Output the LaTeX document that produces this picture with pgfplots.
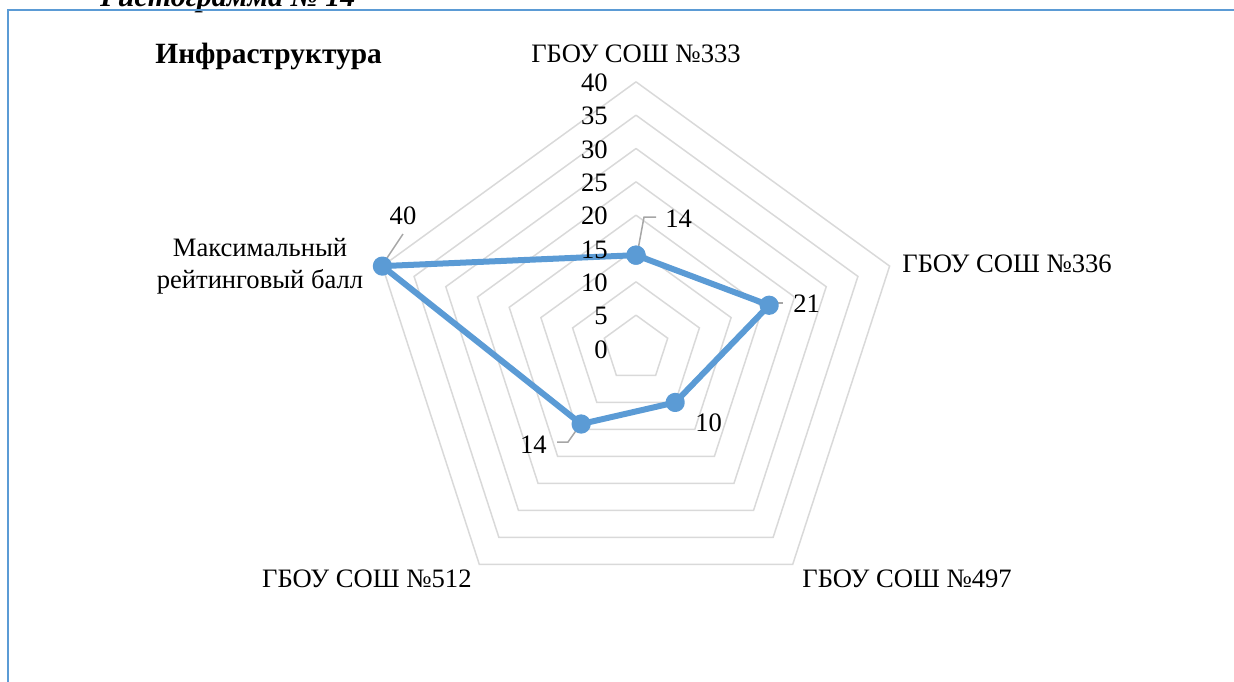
\documentclass[border=0pt]{standalone}
\usepackage{fontspec}
\setmainfont{Liberation Serif}
\usepackage{pgfplots}
\pgfplotsset{compat=1.18}
\definecolor{ser}{RGB}{91,155,213}
\definecolor{gridc}{RGB}{217,217,217}
\definecolor{lead}{RGB}{166,166,166}
\definecolor{framec}{RGB}{91,155,213}
\begin{document}
\begin{tikzpicture}[x=0.5pt,y=0.5pt]
\useasboundingbox (0,0) rectangle (1234,-681);
\coordinate (C) at (636,-348.5);
\begin{scope}
\clip (0,0) rectangle (1234,-681);
\node[anchor=base west, inner sep=0, font=\fontsize{15}{18}\selectfont\bfseries\itshape] at (100,-6.5) {Гистограмма № 14};
\draw[framec, line width=1pt] (8,-700) -- (8,-10) -- (1250,-10);
\end{scope}
\begin{axis}[at={(C)}, anchor=origin, x=3.3333pt, y=3.3333pt,
  xmin=-42, xmax=42, ymin=-42, ymax=42, hide axis, clip=false]
\addplot[gridc, line width=0.75pt, data cs=polar] coordinates {(90,5)(18,5)(-54,5)(-126,5)(162,5)(90,5)};
\addplot[gridc, line width=0.75pt, data cs=polar] coordinates {(90,10)(18,10)(-54,10)(-126,10)(162,10)(90,10)};
\addplot[gridc, line width=0.75pt, data cs=polar] coordinates {(90,15)(18,15)(-54,15)(-126,15)(162,15)(90,15)};
\addplot[gridc, line width=0.75pt, data cs=polar] coordinates {(90,20)(18,20)(-54,20)(-126,20)(162,20)(90,20)};
\addplot[gridc, line width=0.75pt, data cs=polar] coordinates {(90,25)(18,25)(-54,25)(-126,25)(162,25)(90,25)};
\addplot[gridc, line width=0.75pt, data cs=polar] coordinates {(90,30)(18,30)(-54,30)(-126,30)(162,30)(90,30)};
\addplot[gridc, line width=0.75pt, data cs=polar] coordinates {(90,35)(18,35)(-54,35)(-126,35)(162,35)(90,35)};
\addplot[gridc, line width=0.75pt, data cs=polar] coordinates {(90,40)(18,40)(-54,40)(-126,40)(162,40)(90,40)};
\end{axis}
% leader lines
\draw[lead, line width=0.75pt] (383,-264) -- (403,-234);
\draw[lead, line width=0.75pt] (637,-255) -- (644,-217) -- (656,-217);
\draw[lead, line width=0.75pt] (580,-425) -- (568,-442) -- (557,-442);
\draw[lead, line width=0.75pt] (770,-303) -- (783,-303);
\begin{axis}[at={(C)}, anchor=origin, x=3.3333pt, y=3.3333pt,
  xmin=-42, xmax=42, ymin=-42, ymax=42, hide axis, clip=false]
\addplot[ser, line width=3pt, line join=round, mark=*, mark size=3.3pt, mark options={fill=ser, solid}, data cs=polar]
  coordinates {(90,14)(18,21)(-54,10)(-126,14)(162,40)(90,14)};
\end{axis}
\begin{scope}[every node/.style={inner sep=0, font=\fontsize{13.3}{15.5}\selectfont}]
% radial tick labels
\node[anchor=base east] at (608,-358) {0};
\node[anchor=base east] at (608,-324.7) {5};
\node[anchor=base east] at (608,-291.3) {10};
\node[anchor=base east] at (608,-258) {15};
\node[anchor=base east] at (608,-224.7) {20};
\node[anchor=base east] at (608,-191.3) {25};
\node[anchor=base east] at (608,-158) {30};
\node[anchor=base east] at (608,-124.7) {35};
\node[anchor=base east] at (608,-91.3) {40};
% category labels
\node[anchor=base] at (636,-62) {ГБОУ СОШ №333};
\node[anchor=base west] at (902,-272) {ГБОУ СОШ №336};
\node[anchor=base west] at (802,-587) {ГБОУ СОШ №497};
\node[anchor=base east] at (472,-587) {ГБОУ СОШ №512};
\node[anchor=base] at (260,-256) {Максимальный};
\node[anchor=base] at (260,-288) {рейтинговый балл};
% data labels
\node[anchor=base] at (403,-224) {40};
\node[anchor=base west] at (665,-227) {14};
\node[anchor=base west] at (793,-312) {21};
\node[anchor=base west] at (695,-431) {10};
\node[anchor=base east] at (547,-453) {14};
% title
\node[anchor=base west, font=\fontsize{14.7}{18}\selectfont\bfseries] at (155,-63) {Инфраструктура};
\end{scope}
\end{tikzpicture}
\end{document}
